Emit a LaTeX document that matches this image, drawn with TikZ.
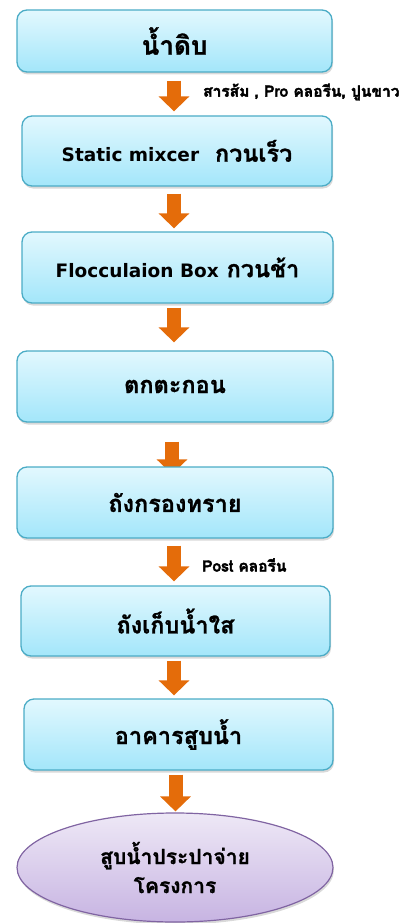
\documentclass[tikz,border=0pt]{standalone}
\usepackage{fontspec}
\newfontfamily\thaifont[Script=Thai,BoldFeatures={FakeBold=1}]{Loma}
\newfontfamily\heavyfont[Script=Thai,BoldFeatures={FakeBold=2.5}]{Loma}
\newfontfamily\latfont{DejaVu Sans}
\usetikzlibrary{arrows.meta,shadows,shapes.geometric}
\pgfdeclarelayer{bg}
\pgfsetlayers{bg,main}
\definecolor{boxtop}{HTML}{E2F8FE}
\definecolor{boxbot}{HTML}{A3E6FA}
\definecolor{boxline}{HTML}{4BACC6}
\definecolor{elltop}{HTML}{EEE8F6}
\definecolor{ellbot}{HTML}{C7B4E2}
\definecolor{ellline}{HTML}{8064A2}
\definecolor{arrcol}{HTML}{E46C0A}
\newcommand{\lat}[1]{{\latfont\bfseries\fontsize{18.5}{22}\selectfont #1}}
\tikzset{
  stepbox/.style={draw=boxline, line width=1.3pt, rounded corners=10pt,
    top color=boxtop, bottom color=boxbot, align=center,
    font=\thaifont\bfseries\fontsize{23.5}{28}\selectfont,
    drop shadow={opacity=0.3, shadow xshift=1pt, shadow yshift=-2.5pt}},
  endell/.style={ellipse, draw=ellline, line width=1.2pt, top color=elltop,
    bottom color=ellbot, align=center, inner sep=0pt,
    font=\thaifont\bfseries\fontsize{21}{29}\selectfont,
    drop shadow={opacity=0.3, shadow xshift=1pt, shadow yshift=-2.5pt}},
  arr/.style={draw=arrcol, line width=14pt, -{Triangle[width=30pt,length=15pt]}},
  note/.style={font=\heavyfont\bfseries\fontsize{15.5}{18}\selectfont, anchor=west, inner sep=0pt}
}
\begin{document}
\begin{tikzpicture}[x=1pt,y=1pt]
\useasboundingbox (0,0) rectangle (408,-923);
\node[stepbox, minimum width=315pt, minimum height=62pt] (b1) at (174.5,-41) {\fontsize{26}{30}\selectfont น้ำดิบ};
\node[stepbox, minimum width=310pt, minimum height=70pt] (b2) at (177,-151) {\lat{Static mixcer}\ \ กวนเร็ว};
\node[stepbox, minimum width=311pt, minimum height=71pt] (b3) at (177.5,-267.5) {\lat{Flocculaion Box} กวนช้า};
\node[stepbox, minimum width=316pt, minimum height=71pt] (b4) at (175,-386.5) {ตกตะกอน};
\node[stepbox, minimum width=316pt, minimum height=71pt] (b5) at (175,-502.5) {ถังกรองทราย};
\node[stepbox, minimum width=309pt, minimum height=70pt] (b6) at (175.5,-621) {ถังเก็บน้ำใส};
\node[stepbox, minimum width=309pt, minimum height=71pt] (b7) at (178.5,-734.5) {อาคารสูบน้ำ};
\node[endell, minimum width=316pt, minimum height=109pt] (e) at (175,-867.5) {สูบน้ำประปาจ่าย\\โครงการ};
\coordinate (a1) at (174,0);
\coordinate (a4) at (172,0);
\coordinate (a7) at (175.5,0);
\begin{pgfonlayer}{bg}
\draw[arr, shorten <=8pt, shorten >=4pt] (b1.south -| a1) -- (b2.north -| a1);
\draw[arr, shorten <=7pt, shorten >=3pt] (b2.south -| a1) -- (b3.north -| a1);
\draw[arr, shorten <=4pt, shorten >=8pt] (b3.south -| a1) -- (b4.north -| a1);
\draw[arr, shorten <=19pt, shorten >=-8pt] (b4.south -| a4) -- (b5.north -| a4);
\draw[arr, shorten <=7pt, shorten >=4pt] (b5.south -| a1) -- (b6.north -| a1);
\draw[arr, shorten <=4pt, shorten >=3pt] (b6.south -| a1) -- (b7.north -| a1);
\draw[arr, shorten <=4pt, shorten >=1pt] (b7.south -| a7) -- (e.north -| a7);
\end{pgfonlayer}
\node[note] (n1) at (203,-92) {สารส้ม , Pro คลอรีน, ปูนขาว};
\node[note] (n2) at (202,-565) {Post คลอรีน};
\end{tikzpicture}
\end{document}
